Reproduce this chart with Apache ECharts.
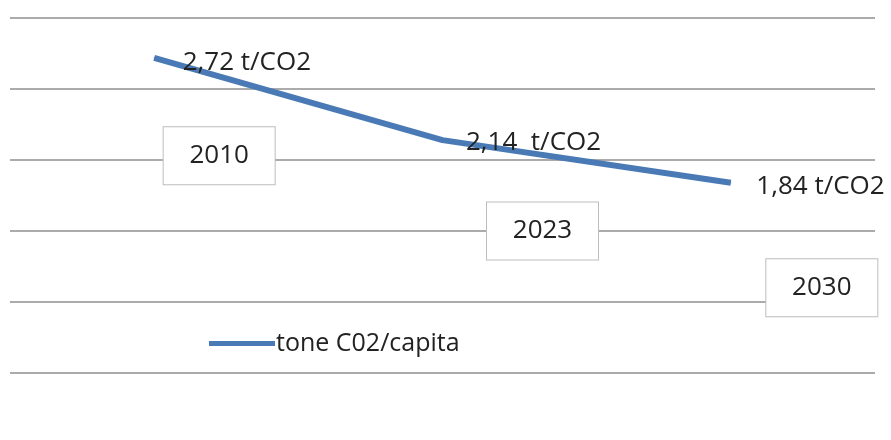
<!DOCTYPE html>
<html>
<head>
<meta charset="utf-8">
<script src="https://cdn.jsdelivr.net/npm/echarts@6/dist/echarts.min.js"></script>
<style>html,body{margin:0;padding:0;background:#fff}#c{width:891px;height:440px}</style>
</head>
<body>
<div id="c"></div>
<script>
const categories = ['2010', '2023', '2030'];
const values = [2.72, 2.14, 1.84];
const valueLabels = ['2,72 t/CO2', '2,14  t/CO2', '1,84 t/CO2'];
const yearBoxValues = [2.03, 1.5, 1.1];
const seriesName = 'tone C02/capita';
const yMin = 0.5, yMax = 3, yInterval = 0.5;

const lineColor = '#4a7ab5';
const textColor = '#222222';
const font = '"Open Sans", sans-serif';
const valueOffsets = [[2, 5], [-3, 2], [-1, 4]];
const boxOffsets = [[65, 0], [100, 0], [91, 0]];

const chart = echarts.init(document.getElementById('c'), null, {renderer: 'canvas'});
chart.setOption({
  animation: false,
  backgroundColor: '#ffffff',
  grid: {left: 10, right: 16, top: 18, bottom: 67, containLabel: false},
  xAxis: {
    type: 'category', data: categories, boundaryGap: true,
    axisLine: {show: false}, axisTick: {show: false}, axisLabel: {show: false}
  },
  yAxis: {
    type: 'value', min: yMin, max: yMax, interval: yInterval,
    axisLine: {show: false}, axisTick: {show: false}, axisLabel: {show: false},
    splitLine: {show: true, lineStyle: {color: '#8f8f8f', width: 1.5}}
  },
  legend: {
    show: true, left: 204, top: 326, data: [{name: seriesName, icon: 'rect'}],
    itemWidth: 66, itemHeight: 5, itemGap: 0,
    textStyle: {fontFamily: font, fontSize: 25, color: textColor, padding: [0, 0, 0, -4]}
  },
  series: [
    {
      name: seriesName, type: 'line', data: values.map((v, i) => ({
        value: v,
        label: {offset: valueOffsets[i], formatter: valueLabels[i]}
      })),
      color: lineColor,
      lineStyle: {color: lineColor, width: 6},
      itemStyle: {color: lineColor},
      symbol: 'circle', symbolSize: 1, showSymbol: true,
      label: {show: true, position: 'right', distance: 26, fontFamily: font, fontSize: 26, color: textColor},
      z: 3
    },
    {
      name: 'years', type: 'scatter', data: yearBoxValues.map((v, i) => ({
        value: v,
        label: {offset: boxOffsets[i], formatter: categories[i]}
      })),
      symbolSize: 0, itemStyle: {color: '#ffffff', opacity: 1},
      label: {
        show: true, position: 'inside', fontFamily: font, fontSize: 26, color: textColor,
        textBorderWidth: 0,
        backgroundColor: '#ffffff', borderColor: '#bdbdbd', borderWidth: 1,
        width: 111, height: 53, lineHeight: 53, padding: [4, 0, 0, 0],
        align: 'center', verticalAlign: 'middle'
      },
      emphasis: {disabled: true},
      z: 4
    }
  ]
});
</script>
</body>
</html>
